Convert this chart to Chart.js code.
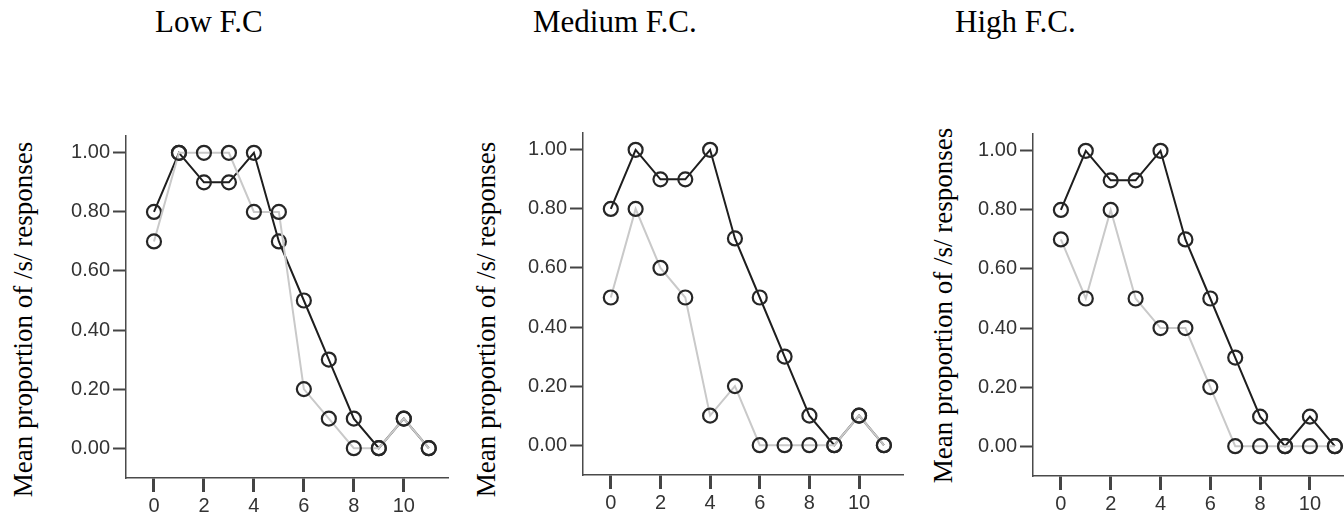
<!DOCTYPE html>
<html>
<head>
<meta charset="utf-8">
<script src="https://cdn.jsdelivr.net/npm/chart.js@4"></script>
<style>
  html, body { margin: 0; padding: 0; background: #fff; overflow: hidden; width: 1344px; height: 520px; }
  .title { position: absolute; top: 6px; font-family: "Liberation Serif", "Times New Roman", serif; font-size: 31px; line-height: 31px; color: #000; white-space: nowrap; }
  .ylabel { position: absolute; width: 420px; height: 27px; font-family: "Liberation Serif", "Times New Roman", serif; font-size: 27px; line-height: 27px; color: #000; text-align: center; white-space: nowrap; transform: rotate(-90deg); }
  canvas { position: absolute; }
</style>
</head>
<body>
<script>
// 1. Data
const panelTitles = ["Low F.C", "Medium F.C.", "High F.C."];
const yAxisTitle = "Mean proportion of /s/ responses";
const xValues = [0, 1, 2, 3, 4, 5, 6, 7, 8, 9, 10, 11];
const xTicks = [0, 2, 4, 6, 8, 10];
const yTicks = [0, 0.2, 0.4, 0.6, 0.8, 1.0];

const lowDark = [0.8, 1.0, 0.9, 0.9, 1.0, 0.7, 0.5, 0.3, 0.1, 0.0, 0.1, 0.0];
const lowLight = [0.7, 1.0, 1.0, 1.0, 0.8, 0.8, 0.2, 0.1, 0.0, 0.0, 0.1, 0.0];
const mediumDark = [0.8, 1.0, 0.9, 0.9, 1.0, 0.7, 0.5, 0.3, 0.1, 0.0, 0.1, 0.0];
const mediumLight = [0.5, 0.8, 0.6, 0.5, 0.1, 0.2, 0.0, 0.0, 0.0, 0.0, 0.1, 0.0];
const highDark = [0.8, 1.0, 0.9, 0.9, 1.0, 0.7, 0.5, 0.3, 0.1, 0.0, 0.1, 0.0];
const highLight = [0.7, 0.5, 0.8, 0.5, 0.4, 0.4, 0.2, 0.0, 0.0, 0.0, 0.0, 0.0];

const seriesDark = [lowDark, mediumDark, highDark];
const seriesLight = [lowLight, mediumLight, highLight];

// 2. Layout: chart-area edges of each panel, title x, y-label centre
const panels = [
  { left: 126, top: 136, bottom: 478, right: 448, titleX: 155, labelX: 23, labelY: 319 },
  { left: 583, top: 133, bottom: 475, right: 903, titleX: 533, labelX: 486, labelY: 319 },
  { left: 1033, top: 134, bottom: 476, right: 1354, titleX: 955, labelX: 943, labelY: 305 }
];
const Y_AXIS_W = 80, X_AXIS_H = 50, PAD_TOP = 20, PAD_RIGHT = 12;

const toPoints = vals => xValues.map((x, i) => ({ x: x, y: vals[i] }));

panels.forEach((p, i) => {
  const title = document.createElement("div");
  title.className = "title";
  title.style.left = p.titleX + "px";
  title.textContent = panelTitles[i];
  document.body.appendChild(title);

  const lab = document.createElement("div");
  lab.className = "ylabel";
  lab.style.left = (p.labelX - 210) + "px";
  lab.style.top = (p.labelY - 13.5) + "px";
  lab.textContent = yAxisTitle;
  document.body.appendChild(lab);

  // 3. Canvas sized so the chart area lands on the reference axes
  const cv = document.createElement("canvas");
  const w = Y_AXIS_W + (p.right - p.left) + PAD_RIGHT;
  const h = PAD_TOP + (p.bottom - p.top) + X_AXIS_H;
  cv.width = w; cv.height = h;
  cv.style.width = w + "px"; cv.style.height = h + "px";
  cv.style.left = (p.left - Y_AXIS_W) + "px";
  cv.style.top = (p.top - PAD_TOP) + "px";
  document.body.appendChild(cv);

  const pointStyle = {
    pointRadius: 7, pointBorderWidth: 2.2, pointBorderColor: "#262626",
    pointBackgroundColor: "rgba(0,0,0,0)", pointHoverRadius: 7
  };

  new Chart(cv, {
    type: "line",
    data: {
      datasets: [
        // light series first so it is drawn on top (as in the reference)
        Object.assign({ data: toPoints(seriesLight[i]), borderColor: "#c9c9c9", borderWidth: 2, clip: false }, pointStyle),
        Object.assign({ data: toPoints(seriesDark[i]), borderColor: "#1e1e1e", borderWidth: 2, clip: false }, pointStyle)
      ]
    },
    options: {
      responsive: false,
      animation: false,
      layout: { padding: { top: PAD_TOP, right: PAD_RIGHT, left: 0, bottom: 0 } },
      plugins: { legend: { display: false }, tooltip: { enabled: false } },
      scales: {
        x: {
          type: "linear", min: -1.12, max: 11.77,
          afterFit: s => { s.height = X_AXIS_H; },
          afterBuildTicks: s => { s.ticks = xTicks.map(v => ({ value: v })); },
          grid: { drawOnChartArea: false, drawTicks: true, tickLength: 14, tickWidth: 3, tickColor: "#444" },
          border: { display: true, color: "#4a4a4a", width: 1.5 },
          ticks: { padding: 2, color: "#333", font: { family: "'Liberation Sans', Arial, sans-serif", size: 20 }, maxRotation: 0 }
        },
        y: {
          min: -0.101, max: 1.057,
          afterFit: s => { s.width = Y_AXIS_W; },
          afterBuildTicks: s => { s.ticks = yTicks.map(v => ({ value: v })); },
          grid: { drawOnChartArea: false, drawTicks: true, tickLength: 13, tickWidth: 2, tickColor: "#444" },
          border: { display: true, color: "#4a4a4a", width: 1.5 },
          ticks: { padding: 3, color: "#333", font: { family: "'Liberation Sans', Arial, sans-serif", size: 20 }, callback: v => v.toFixed(2) }
        }
      }
    }
  });
});
</script>
</body>
</html>
